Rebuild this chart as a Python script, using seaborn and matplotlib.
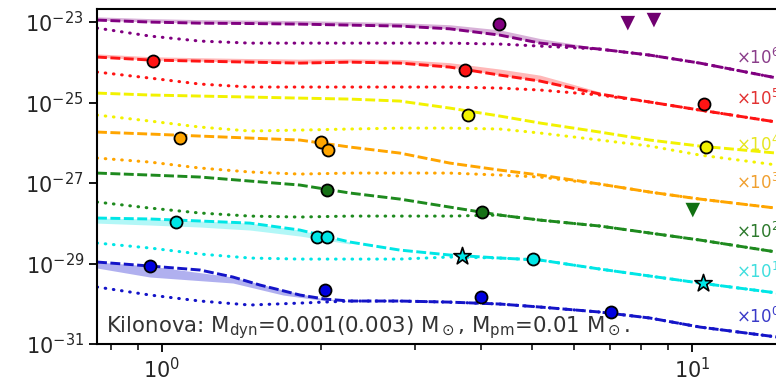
import numpy as np
import matplotlib
matplotlib.use("Agg")
import matplotlib.pyplot as plt
import seaborn as sns
from matplotlib.ticker import NullFormatter, NullLocator, LogLocator

sns.set_style("ticks")
plt.rcParams['font.family'] = ['DejaVu Sans']
plt.rcParams['mathtext.fontset'] = 'dejavusans'

nan = np.nan

# time grid (days) shared by most curves
t = [0.754, 0.949, 1.18, 1.466, 1.821, 2.263, 2.81, 3.49, 4.34, 5.17, 6.70, 8.33, 10.35, 15.5]

# x10^6
purple_dash = [1.12e-23, 1.0e-23, 9.4e-24, 9.2e-24, 8.9e-24, 8.4e-24, 7.95e-24, 6.8e-24, 4.75e-24, 3.0e-24, 2.13e-24, 1.51e-24, 9.57e-25, 3.42e-25]
purple_dot = [7.1e-24, 4.49e-24, 3.37e-24, 3.0e-24, 3.0e-24, 3.0e-24, 3.0e-24, 3.0e-24, 2.84e-24, 2.53e-24, 2.13e-24, 1.51e-24, 9.57e-25, 3.42e-25]
purple_band_hi = [1.35e-23, 1.22e-23, 1.15e-23, 1.12e-23, 1.09e-23, 1.03e-23, 9.7e-24, 8.6e-24, 6.4e-24, 3.9e-24, 2.25e-24, nan, nan, nan]

# x10^5
red_dash = [1.35e-24, 1.14e-24, 1.07e-24, 1.01e-24, 9.57e-25, 1.01e-24, 9.57e-25, 7.62e-25, 4.82e-25, 3.42e-25, 1.63e-25, 1.03e-25, 6.51e-26, 2.84e-26]
red_dot = [5.73e-25, 4.06e-25, 2.88e-25, 2.43e-25, 2.43e-25, 2.43e-25, 2.43e-25, 2.43e-25, 2.29e-25, 2.05e-25, 1.54e-25, 1.03e-25, 6.51e-26, 2.84e-26]
red_band_hi = [1.62e-24, 1.38e-24, 1.30e-24, 1.24e-24, 1.20e-24, 1.22e-24, 1.18e-24, 9.8e-25, 6.8e-25, 4.8e-25, 1.85e-25, nan, nan, nan]

# x10^4
yellow_dash = [1.72e-25, 1.54e-25, 1.45e-25, 1.37e-25, 1.29e-25, 1.22e-25, 1.09e-25, 7.3e-26, 4.62e-26, 3.1e-26, 1.85e-26, 1.17e-26, 8.3e-27, 5.1e-27]
yellow_dot = [4.89e-26, 3.47e-26, 2.46e-26, 1.96e-26, 2.07e-26, 2.20e-26, 2.32e-26, 2.32e-26, 2.20e-26, 1.75e-26, 1.17e-26, 8.30e-27, 4.96e-27, 2.50e-27]

# x10^3
orange_dash = [1.85e-26, 1.65e-26, 1.47e-26, 1.31e-26, 1.17e-26, 7.84e-27, 5.56e-27, 3.14e-27, 2.10e-27, 1.58e-27, 9.44e-28, 5.97e-28, 4.0e-28, 2.13e-28]
orange_dot = [4.18e-27, 3.32e-27, 2.36e-27, 1.88e-27, 1.67e-27, 1.77e-27, 1.77e-27, 1.77e-27, 1.58e-27, 1.41e-27, 9.44e-28, 5.97e-28, 4.0e-28, 2.13e-28]

# x10^2
green_dash = [1.77e-27, 1.58e-27, 1.41e-27, 1.12e-27, 8.92e-28, 5.65e-28, 4.0e-28, 2.53e-28, 1.60e-28, 1.20e-28, 8.55e-29, 5.73e-29, 3.84e-29, 1.67e-29]
green_dot = [3.37e-28, 2.39e-28, 1.80e-28, 1.51e-28, 1.43e-28, 1.51e-28, 1.51e-28, 1.51e-28, 1.60e-28, 1.20e-28, 8.55e-29, 5.73e-29, 3.84e-29, 1.67e-29]

# x10^1
cyan_dash = [1.35e-28, 1.28e-28, 1.14e-28, 1.01e-28, 6.79e-29, 3.42e-29, 2.16e-29, 1.63e-29, 1.37e-29, 1.22e-29, 7.3e-30, 4.89e-30, 3.28e-30, 1.65e-30]
cyan_dot = [3.23e-29, 2.43e-29, 1.72e-29, 1.37e-29, 1.29e-29, 1.29e-29, 1.29e-29, 1.45e-29, 1.37e-29, 1.22e-29, 7.3e-30, 4.89e-30, 3.28e-30, 1.65e-30]
cyan_band_lo = [1.01e-28, 9.05e-29, 8.07e-29, 6.79e-29, 4.82e-29, 3.05e-29, nan, nan, nan, nan, nan, nan, nan, nan]

# x10^0
blue_t = [0.754, 0.949, 1.18, 1.361, 1.531, 1.670, 1.821, 2.030, 2.263, 2.81, 3.49, 4.34, 5.17, 6.70, 8.33, 10.35, 15.5]
blue_dash = [1.09e-29, 8.67e-30, 6.90e-30, 4.62e-30, 2.92e-30, 2.20e-30, 1.65e-30, 1.31e-30, 1.17e-30, 1.17e-30, 1.10e-30, 9.86e-31, 8.30e-31, 6.23e-31, 4.43e-31, 2.64e-31, 1.33e-31]
blue_dot = [2.61e-30, 1.65e-30, 1.17e-30, 9.31e-31, 1.04e-30, 1.17e-30, 1.17e-30, 1.10e-30, 9.86e-31, 8.30e-31, 6.23e-31, 4.43e-31, 2.64e-31, 1.33e-31]
blue_band_t = [0.754, 0.949, 1.361, 1.692, 1.987, 2.263]
blue_band_lo = [7.73e-30, 4.62e-30, 3.28e-30, 1.65e-30, 1.24e-30, 1.17e-30]
blue_band_hi = [1.09e-29, 8.67e-30, 4.62e-30, 2.20e-30, 1.39e-30, 1.17e-30]

# observed points
purple_obs_t, purple_obs_f = [4.32], [8.9e-24]
purple_lim_t, purple_lim_f = [7.57, 8.48], [9.4e-24, 1.12e-23]
red_obs_t, red_obs_f = [0.962, 3.73, 10.54], [1.07e-24, 6.41e-25, 9.18e-26]
yellow_obs_t, yellow_obs_f = [3.78, 10.62], [4.89e-26, 7.84e-27]
orange_obs_t, orange_obs_f = [1.081, 1.995, 2.056], [1.31e-26, 1.04e-26, 6.6e-27]
green_obs_t, green_obs_f = [2.048, 4.02], [6.70e-28, 1.90e-28]
green_lim_t, green_lim_f = [10.04], [2.13e-28]
cyan_obs_t, cyan_obs_f = [1.063, 1.961, 2.048, 5.01], [1.07e-28, 4.55e-29, 4.55e-29, 1.29e-29]
cyan_star_t, cyan_star_f = [3.68, 10.49], [1.53e-29, 3.28e-30]
blue_obs_t, blue_obs_f = [0.949, 2.030, 4.0, 7.03], [8.67e-30, 2.20e-30, 1.47e-30, 6.23e-31]

scale_labels = [r"$\times10^6$", r"$\times10^5$", r"$\times10^4$", r"$\times10^3$",
                r"$\times10^2$", r"$\times10^1$", r"$\times10^0$"]
label_y = [1.28e-24, 1.22e-25, 8.79e-27, 1.0e-27, 6.07e-29, 6.15e-30, 4.69e-31]

C = {"purple": "#800080", "red": "#ff1414", "yellow": "#f2f200", "orange": "#ffa500",
     "green": "#1e8a1e", "cyan": "#00e6e6", "blue": "#1414c8"}
label_colors = ["#8a3d8a", "#e23232", "#e6e620", "#f0a030", "#2d7a2d", "#40dede", "#3a3ac8"]

fig = plt.figure(figsize=(7.76, 3.78), dpi=100)
ax = fig.add_axes([0.125, 0.0899, 0.8956, 0.886])
ax.set_xscale("log")
ax.set_yscale("log")

dash = (0, (3.4, 1.2))
dot = (0, (0.2, 2.5))


def curve(x, y, color, ls):
    if ls is dot:
        sns.lineplot(x=x, y=y, color=color, linestyle=ls, linewidth=2.2, ax=ax,
                     sort=False, estimator=None, dash_capstyle="round")
    else:
        sns.lineplot(x=x, y=y, color=color, linestyle=ls, linewidth=2.1, ax=ax,
                     sort=False, estimator=None)


ax.fill_between(t, purple_dash, purple_band_hi, color=C["purple"], alpha=0.3, lw=0)
ax.fill_between(t, red_dash, red_band_hi, color=C["red"], alpha=0.3, lw=0)
ax.fill_between(t, cyan_band_lo, cyan_dash, color=C["cyan"], alpha=0.3, lw=0)
ax.fill_between(blue_band_t, blue_band_lo, blue_band_hi, color="#3b3bd8", alpha=0.4, lw=0)

curve(t, purple_dash, C["purple"], dash)
curve(t, purple_dot, C["purple"], dot)
curve(t, red_dash, C["red"], dash)
curve(t, red_dot, C["red"], dot)
curve(t, yellow_dash, C["yellow"], dash)
curve(t, yellow_dot, C["yellow"], dot)
curve(t, orange_dash, C["orange"], dash)
curve(t, orange_dot, C["orange"], dot)
curve(t, green_dash, C["green"], dash)
curve(t, green_dot, C["green"], dot)
curve(t, cyan_dash, C["cyan"], dash)
curve(t, cyan_dot, C["cyan"], dot)
curve(blue_t, blue_dash, C["blue"], dash)
curve(t, blue_dot, C["blue"], dot)

circ = dict(marker="o", s=75, edgecolor="black", linewidth=1.3, zorder=6, legend=False, ax=ax)
sns.scatterplot(x=purple_obs_t, y=purple_obs_f, color=C["purple"], **circ)
sns.scatterplot(x=red_obs_t, y=red_obs_f, color=C["red"], **circ)
sns.scatterplot(x=yellow_obs_t, y=yellow_obs_f, color=C["yellow"], **circ)
sns.scatterplot(x=orange_obs_t, y=orange_obs_f, color=C["orange"], **circ)
sns.scatterplot(x=green_obs_t, y=green_obs_f, color="#167016", **circ)
sns.scatterplot(x=cyan_obs_t, y=cyan_obs_f, color=C["cyan"], **circ)
sns.scatterplot(x=blue_obs_t, y=blue_obs_f, color="#0000e0", **circ)
sns.scatterplot(x=cyan_star_t, y=cyan_star_f, color=C["cyan"], marker="*", s=170,
                edgecolor="black", linewidth=1.2, zorder=6, legend=False, ax=ax)
sns.scatterplot(x=purple_lim_t, y=purple_lim_f, color="#700070", marker="v", s=110,
                edgecolor="none", zorder=6, legend=False, ax=ax)
sns.scatterplot(x=green_lim_t, y=green_lim_f, color="#117011", marker="v", s=110,
                edgecolor="none", zorder=6, legend=False, ax=ax)

for lab, yy, c in zip(scale_labels, label_y, label_colors):
    ax.text(12.1, yy, lab, color=c, fontsize=12, va="center", ha="left")

ax.text(0.013, 0.036, r"Kilonova: M$_{\rm dyn}$=0.001(0.003) M$_\odot$, M$_{\rm pm}$=0.01 M$_\odot$.",
        transform=ax.transAxes, fontsize=15.3, color="#333333", va="baseline", ha="left")

ax.set_xlim(0.754, 15.45)
ax.set_ylim(1e-31, 2.1e-23)
ax.set_yticks([1e-31, 1e-29, 1e-27, 1e-25, 1e-23])
ax.yaxis.set_minor_locator(NullLocator())
ax.xaxis.set_major_locator(LogLocator(base=10))
ax.xaxis.set_minor_locator(LogLocator(base=10, subs=np.arange(2, 10)))
ax.xaxis.set_minor_formatter(NullFormatter())
ax.set_xlabel("")
ax.set_ylabel("")
ax.tick_params(which="major", length=6, width=1.3, labelsize=15, direction="out", color="black")
ax.tick_params(which="minor", length=4, width=1.1, direction="out", color="black")
for s in ax.spines.values():
    s.set_linewidth(1.5)
    s.set_color("black")

fig.savefig("out.png", dpi=100)
